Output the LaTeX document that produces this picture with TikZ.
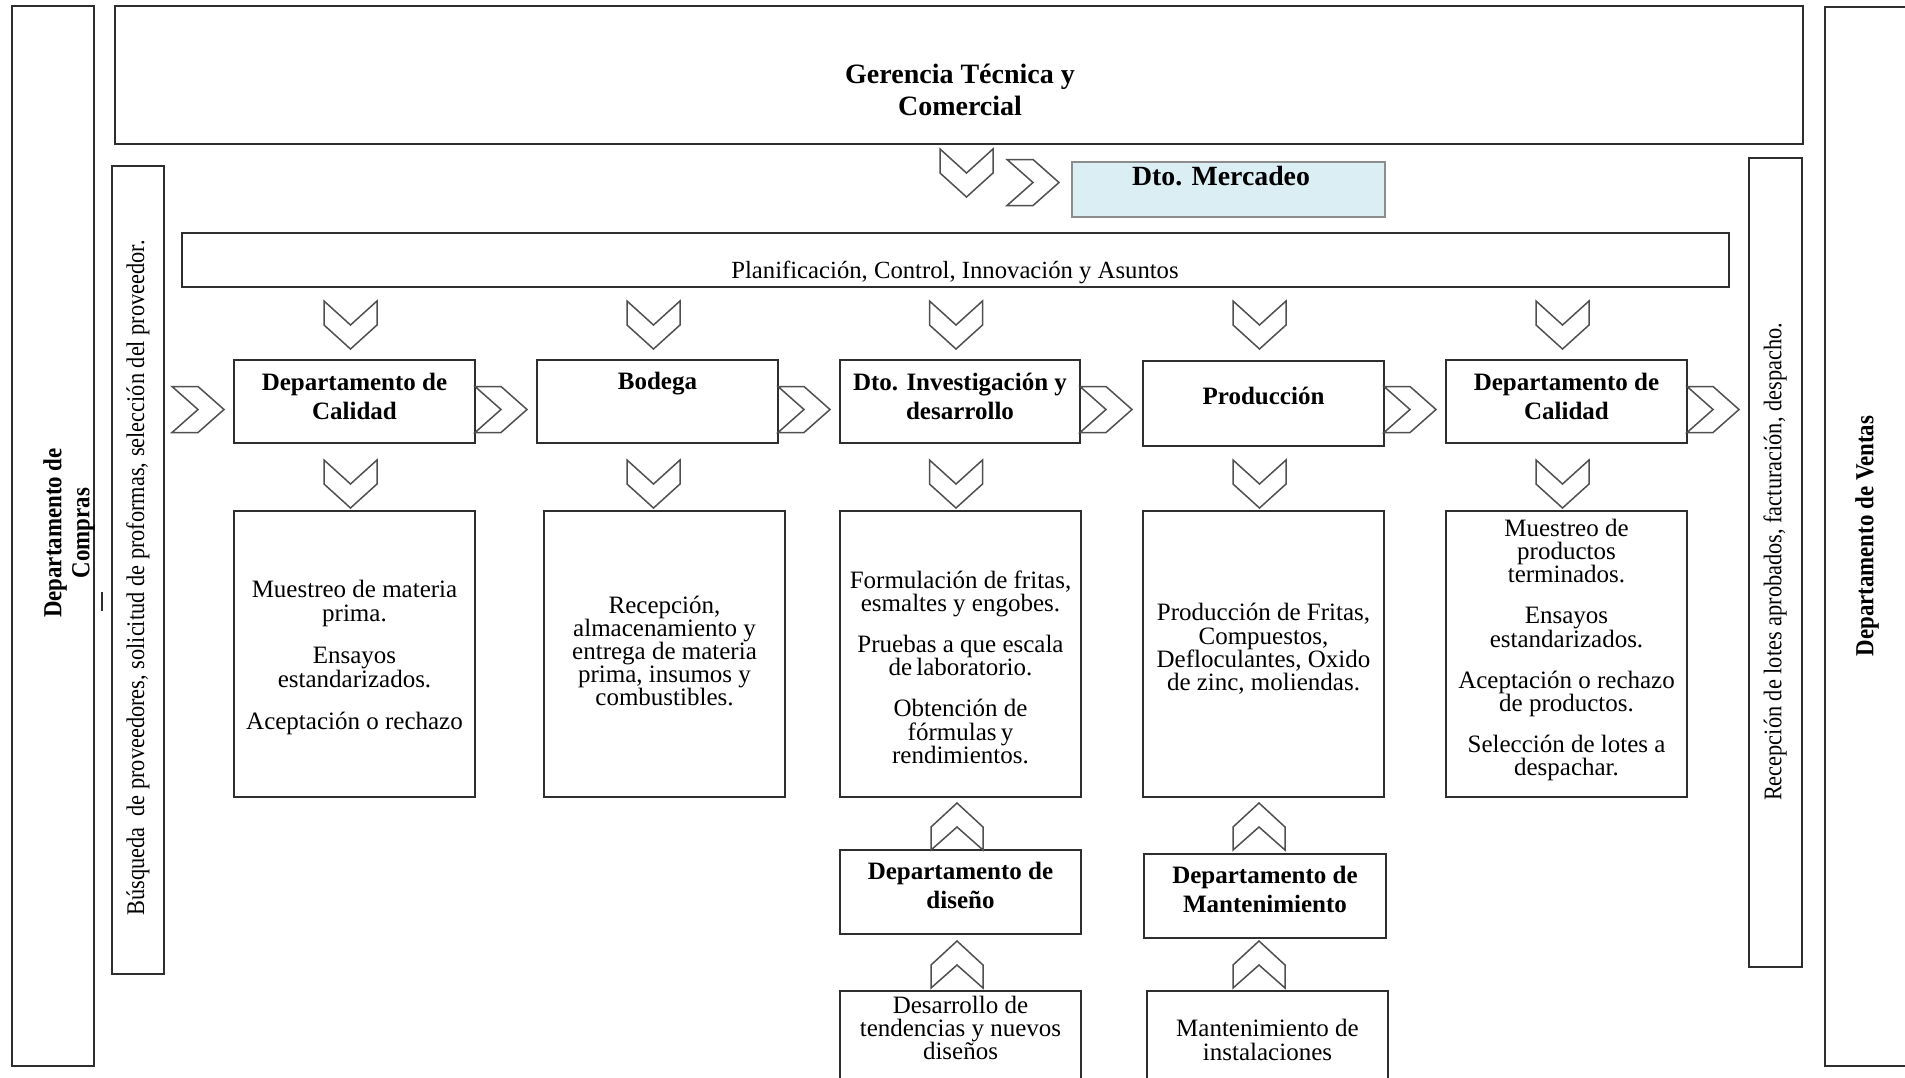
\documentclass[tikz,border=0pt]{standalone}
\usepackage{fontspec}
\usepackage{graphicx}
\setmainfont{Liberation Serif}
\usetikzlibrary{calc,fit}
\definecolor{ln}{HTML}{2E2E2E}
\definecolor{chv}{HTML}{505050}
\definecolor{mercfill}{HTML}{DBEEF4}
\definecolor{mercline}{HTML}{8C8C8C}
\tikzset{
  box/.style={draw=ln, line width=0.9pt, inner sep=0pt},
  chev/.style={draw=chv, line width=0.75pt, line join=miter},
  body/.style={align=center, inner sep=0pt, font={\fontsize{12.5}{11.6}\selectfont\lineskiplimit=-20pt}},
  hdr/.style={align=center, inner sep=0pt, font={\bfseries\fontsize{12.5}{14.5}\selectfont}},
  vtxt/.style={rotate=90, inner sep=0pt, align=center},
  chevR/.pic={\draw[chev] (0,-23) -- (26,-23) -- (52,0) -- (26,23) -- (0,23) -- (26,0) -- cycle;},
  chevD/.pic={\draw[chev] (-26.5,0) -- (0,24) -- (26.5,0) -- (26.5,24) -- (0,48) -- (-26.5,24) -- cycle;},
  chevU/.pic={\draw[chev] (-26,0) -- (-26,-23) -- (0,-47) -- (26,-23) -- (26,0) -- (0,-23) -- cycle;},
}
\begin{document}
\begin{tikzpicture}[x=0.5pt, y=-0.5pt]
\useasboundingbox (0,0) rectangle (1905,1077);
\fill[white] (0,0) rectangle (1905,1077);

% outer frames
\node[box, fit={(12,6)(94,1066)}] (compras) {};
\node[box, fit={(1825,7)(1915,1066)}] (ventas) {};
\node[box, fit={(115,6)(1803,144)}] (ger) {};
\node[box, fit={(112,166)(164,974)}] (busq) {};
\node[box, fit={(1749,158)(1802,967)}] (recep) {};
\node[box, fit={(182,233)(1729,287)}] (plan) {};
\node[draw=mercline, fill=mercfill, line width=0.6pt, inner sep=0pt, fit={(1072,162)(1385,217)}] (merc) {};

% main row
\node[box, fit={(234,360)(475,443)}] (b1) {};
\node[box, fit={(537,360)(778,443)}] (b2) {};
\node[box, fit={(840,360)(1080,443)}] (b3) {};
\node[box, fit={(1143,361)(1384,446)}] (b4) {};
\node[box, fit={(1446,360)(1687,443)}] (b5) {};

% lower row
\node[box, fit={(234,511)(475,797)}] (l1) {};
\node[box, fit={(544,511)(785,797)}] (l2) {};
\node[box, fit={(840,511)(1081,797)}] (l3) {};
\node[box, fit={(1143,511)(1384,797)}] (l4) {};
\node[box, fit={(1446,511)(1687,797)}] (l5) {};

\node[box, fit={(840,850)(1081,934)}] (dis) {};
\node[box, fit={(1144,854)(1386,938)}] (mant) {};
\node[box, fit={(840,991)(1081,1095)}] (desa) {};
\node[box, fit={(1147,991)(1388,1095)}] (inst) {};

% texts
\node[align=center, inner sep=0pt, font={\bfseries\fontsize{14}{15.8}\selectfont}] (tger) at (960,90) {Gerencia Técnica y\\Comercial};
\node[inner sep=0pt, font={\bfseries\fontsize{13.9}{15}\selectfont}] (tmerc) at (1221,176) {Dto. Mercadeo};
\node[inner sep=0pt, font={\fontsize{12.35}{14}\selectfont}] (tplan) at (955,272) {Planificación, Control, Innovación y Asuntos};

\node[hdr] (tb1) at (354.5,396) {Departamento de\\Calidad};
\node[hdr] (tb2) at (657.5,384) {Bodega};
\node[hdr] (tb3) at (960,396) {Dto. Investigación y\\desarrollo};
\node[hdr] (tb4) at (1263.5,396) {Producción};
\node[hdr] (tb5) at (1566.5,396) {Departamento de\\Calidad};
\node[hdr] (tdis) at (960.5,885) {Departamento de\\diseño};
\node[hdr] (tmant) at (1265,889) {Departamento de\\Mantenimiento};

\node[body] (tdesa) at (960.5,1028) {Desarrollo de\\tendencias y nuevos\\diseños};
\node[body] (tinst) at (1267.5,1040) {Mantenimiento de\\instalaciones};

\node[body, font={\fontsize{12.5}{12}\selectfont\lineskiplimit=-20pt}] (tl1) at (354.5,657) {Muestreo de materia\\prima.\\[9pt]Ensayos\\estandarizados.\\[9pt]Aceptación o rechazo};
\node[body] (tl2) at (664.5,651) {Recepción,\\almacenamiento y\\entrega de materia\\prima, insumos y\\combustibles.};
\node[body] (tl3) at (960.5,667) {Formulación de fritas,\\esmaltes y engobes.\\[9pt]Pruebas a que escala\\de\,laboratorio.\\[9pt]Obtención de\\fórmulas\,y\\rendimientos.};
\node[body] (tl4) at (1263.5,649) {Producción de Fritas,\\Compuestos,\\Defloculantes, Oxido\\de zinc, moliendas.};
\node[body] (tl5) at (1566.5,650) {Muestreo de\\productos\\terminados.\\[9pt]Ensayos\\estandarizados.\\[9pt]Aceptación o rechazo\\de productos.\\[9pt]Selección de lotes a\\despachar.};

% vertical texts
\node[vtxt, font={\bfseries\fontsize{13}{14}\selectfont}] (tcomp) at (69,533) {\scalebox{0.88}[1]{Departamento de}\\\scalebox{0.88}[1]{Compras}};
\node[vtxt, font={\bfseries\fontsize{13}{14}\selectfont}] (tvent) at (1867,536) {\scalebox{0.88}[1]{Departamento de Ventas}};
\node[vtxt, font={\fontsize{12.7}{14}\selectfont}] (tbusq) at (138,578) {\scalebox{0.88}[1]{Búsqueda\ \ de proveedores, solicitud de proformas, selección del proveedor.}};
\node[vtxt, font={\fontsize{12.7}{14}\selectfont}] (trecep) at (1775,562) {\scalebox{0.88}[1]{Recepción de lotes aprobados, facturación, despacho.}};

\draw[ln, line width=0.6pt] (102,592) -- (102,611);

% chevrons
\pic at (966.5,149) {chevD};
\pic at (1007,182.5) {chevR};
\foreach \cx in {350.5,653.5,956,1259.5,1562.5} {
  \pic at (\cx,301) {chevD};
  \pic at (\cx,460) {chevD};
}
\foreach \cx in {172,475,778,1080,1384,1687} {
  \pic at (\cx,409.5) {chevR};
}
\pic at (957,850) {chevU};
\pic at (957,988) {chevU};
\pic at (1259,850) {chevU};
\pic at (1259,988) {chevU};
\end{tikzpicture}
\end{document}
